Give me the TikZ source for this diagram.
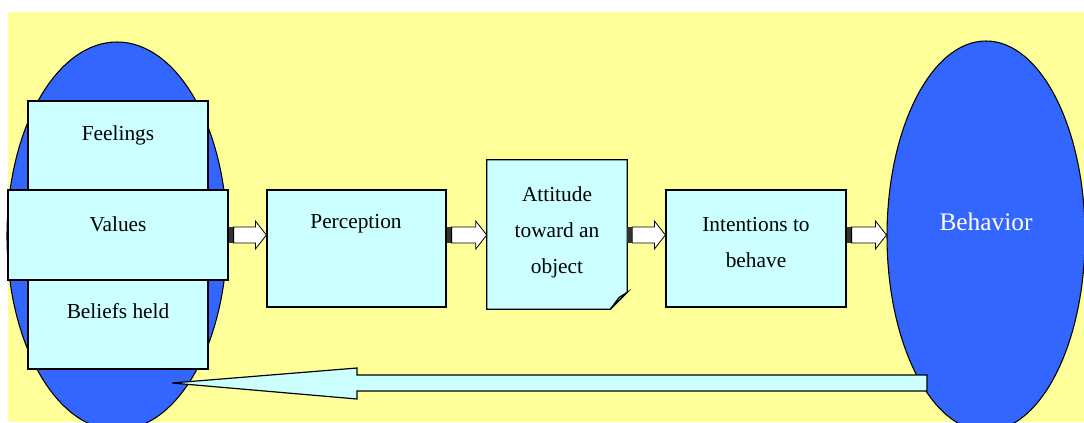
\documentclass[tikz,border=0pt]{standalone}
\usepackage{fontspec}
\setmainfont{Liberation Serif}
\usetikzlibrary{calc}
\usetikzlibrary{shapes.geometric}

\definecolor{bgyellow}{RGB}{255,255,153}
\definecolor{ovalblue}{RGB}{51,102,255}
\definecolor{boxcyan}{RGB}{204,255,255}

\begin{document}
\begin{tikzpicture}[x=0.75pt,y=0.75pt,yscale=-1,xscale=1,
  box/.style={draw=black, fill=boxcyan, line width=0.9pt, inner sep=0pt},
  oval/.style={ellipse, draw=black, fill=ovalblue, line width=0.8pt, inner sep=0pt},
  lbl/.style={inner sep=0.75pt, font=\fontsize{16}{27}\selectfont, align=center},
  fatarrow/.style={draw=black, fill=white, line width=0.6pt},
  backarrow/.style={draw=black, fill=boxcyan, line width=0.9pt, line join=miter}]
\useasboundingbox (0,0) rectangle (1084,422);
\clip (0,0) rectangle (1084,422);

%Shape: Rectangle [background]
\fill[bgyellow] (8,12) rectangle (1084,422);

%Shape: Ellipse
\node[oval, minimum width=165pt, minimum height=291pt] (self) at (117,236) {};
\node[oval, minimum width=148.5pt, minimum height=292.5pt] (beh) at (986,236) {};

%Shape: Rectangle
\node[box, minimum width=135pt, minimum height=66.75pt] (feel) at (118,145.5) {};
\node[box, minimum width=135pt, minimum height=66.75pt] (bel) at (118,324.5) {};
\node[box, minimum width=165pt, minimum height=67.5pt] (val) at (118,235) {};
\node[box, minimum width=134.25pt, minimum height=87.75pt] (perc) at (356.5,248.5) {};
\node[box, minimum width=135pt, minimum height=87.75pt] (inten) at (756,248.5) {};

%Shape: Folded Corner
\node[inner sep=0pt, minimum width=105pt, minimum height=111.75pt] (att) at (557,234.5) {};
\draw[box] (att.north west) -- (att.north east) -- ($(att.south east)+(0,-17)$) -- ($(att.south east)+(-17,0)$) -- (att.south west) -- cycle;
\draw[box, fill=boxcyan!75!gray] ($(att.south east)+(0,-17)$) -- ($(att.south east)+(-17,0)$) -- ($(att.south east)+(-8,-12)$) -- cycle;

% Text Node
\node[lbl] (feelT) at (118,135) {Feelings};
\node[lbl] (valT) at (118,224) {Values};
\node[lbl] (belT) at (118,311) {Beliefs held};
\node[lbl] (percT) at (356,224) {Perception};
\node[lbl] (attT) at (557,232) {Attitude\\toward an\\object};
\node[lbl] (intenT) at (756,243) {Intentions to\\behave};
\node[lbl, text=white, font=\fontsize{19}{23}\selectfont] (behT) at (986,222) {Behavior};

%Block Arrows
\coordinate (ay) at (0,235);
\foreach \a/\b in {val/perc,perc/att,att/inten,inten/beh}{
  \coordinate (s) at (\a.east |- ay);
  \coordinate (e) at (\b.west |- ay);
  \fill[black!80] ($(s)+(0,-8)$) rectangle ($(s)+(5,8)$);
  \draw[fatarrow] ($(s)+(5,-8)$) -- ($(e)+(-11,-8)$) -- ($(e)+(-11,-14)$) -- (e) -- ($(e)+(-11,14)$) -- ($(e)+(-11,8)$) -- ($(s)+(5,8)$) -- cycle;
}

%Back Arrow
\coordinate (backS) at (927,383);
\coordinate (backE) at (172,383);
\draw[backarrow] ($(backS)+(0,-8)$) -- ($(backE)+(185,-8)$) -- ($(backE)+(185,-15)$) -- (backE) -- ($(backE)+(185,16)$) -- ($(backE)+(185,8)$) -- ($(backS)+(0,8)$) -- cycle;

\end{tikzpicture}
\end{document}
